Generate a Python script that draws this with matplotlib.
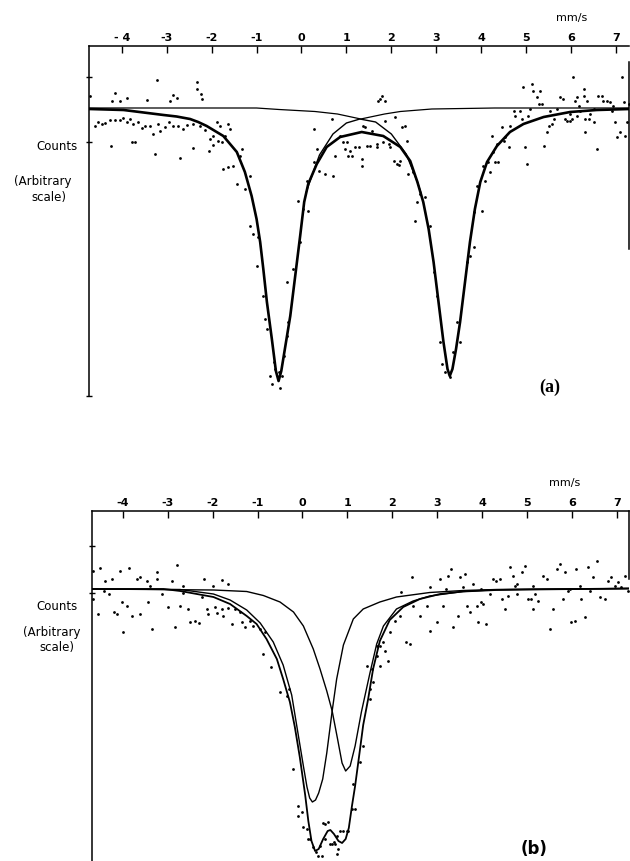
import matplotlib
matplotlib.use("Agg")
import matplotlib.pyplot as plt

# ---------------- data: panel (a) ----------------
tick_vals = [-4, -3, -2, -1, 0, 1, 2, 3, 4, 5, 6, 7]
tick_labels_a = ["- 4", "-3", "-2", "-1", "0", "1", "2", "3", "4", "5", "6", "7"]
tick_labels_b = ["-4", "-3", "-2", "-1", "0", "1", "2", "3", "4", "5", "6", "7"]

# total fit (thick)
a_fit_v = [-4.72, -3.96, -3.07, -2.78, -2.48, -2.30, -2.11, -1.74, -1.44, -1.26, -1.11, -1.00, -0.92, -0.85,
           -0.77, -0.66, -0.57, -0.51, -0.45, -0.37, -0.25, -0.14, -0.03, 0.06, 0.15, 0.34,
           0.56, 0.86, 1.34, 1.82, 2.20, 2.42, 2.58, 2.71, 2.83, 2.94, 3.05, 3.16, 3.25,
           3.30, 3.36, 3.44, 3.53, 3.64, 3.75, 3.86, 3.98, 4.13, 4.35, 4.64, 4.94, 5.39,
           5.98, 6.57, 7.30]
a_fit_y = [287, 286, 281, 279.5, 277, 274, 270, 260, 244, 224, 200, 177, 154, 127,
           94, 57, 25, 15, 25, 47, 80, 120, 160, 194, 212, 232,
           249, 259, 264, 260, 249, 235, 214, 194, 167, 134, 94, 54, 27,
           20, 27, 47, 74, 114, 154, 187, 214, 234, 250, 264, 272, 279,
           284, 286, 287]

# doublet component (thin, between the lines)
a_dbl_v = [0.10, 0.19, 0.40, 0.70, 1.00, 1.30, 1.65, 2.00, 2.33, 2.58, 2.66]
a_dbl_y = [203, 215, 241, 262, 273, 277, 274, 262, 242, 214, 203]

# broad singlet component (thin)
a_sgl_v = [-4.72, -1.0, -0.5, 0.3, 0.8, 1.32, 1.85, 2.2, 2.9, 4.3, 7.30]
a_sgl_y = [288, 288, 286.5, 284.5, 282, 277, 282, 284.5, 287, 288, 288]

a_pts = [
    (-4.71, 300), (-4.15, 303), (-4.22, 295), (-4.05, 295), (-3.89, 298), (-3.44, 296), (-3.21, 316),
    (-2.93, 295), (-2.87, 301), (-2.78, 298), (-2.32, 314), (-2.33, 307), (-2.24, 302), (-2.22, 297),
    (-4.59, 270), (-4.52, 274), (-4.44, 272), (-4.37, 273), (-4.26, 276), (-4.15, 276), (-4.05, 276),
    (-3.98, 278), (-3.89, 274), (-3.81, 277), (-3.74, 272), (-3.63, 274), (-3.56, 268), (-3.48, 270),
    (-3.37, 270), (-3.30, 262), (-3.19, 272), (-3.15, 265), (-3.04, 269), (-2.96, 274), (-2.85, 270),
    (-2.74, 270), (-2.63, 267), (-2.55, 271), (-2.41, 272), (-2.26, 270), (-2.15, 266), (-2.04, 257),
    (-1.96, 260), (-1.89, 274), (-1.81, 270), (-1.78, 254), (-1.70, 260), (-1.63, 272), (-1.59, 267),
    (-1.74, 227), (-1.63, 229), (-1.52, 230), (-1.44, 212), (-1.37, 240), (-1.33, 247), (-1.14, 220),
    (-4.25, 250), (-3.78, 254), (-3.70, 254), (-3.26, 242), (-2.70, 238), (-2.41, 248), (-2.07, 245),
    (-1.96, 251), (-1.85, 255), (-1.26, 207), (-1.14, 170), (-1.07, 162), (-0.96, 159), (-1.00, 130),
    (-0.85, 100), (-0.81, 77), (-0.77, 67), (-0.70, 20), (-0.66, 12), (-0.62, 34), (-0.59, 27),
    (-0.51, 24), (-0.48, 8), (-0.44, 20), (-0.40, 40), (-0.33, 60), (-0.29, 74), (-0.33, 114),
    (-0.18, 127), (-0.03, 154), (-0.07, 195), (0.04, 187), (0.15, 185), (0.12, 215), (0.27, 234),
    (0.34, 247), (0.38, 225), (0.52, 222), (0.71, 220), (0.75, 240), (0.67, 277), (0.27, 267),
    (0.86, 260), (1.01, 254), (1.08, 245), (1.04, 240), (1.19, 249), (1.34, 230), (1.34, 237),
    (1.45, 250), (1.41, 269), (1.53, 250), (1.68, 249), (1.71, 295),
    (0.93, 254), (0.97, 247), (1.12, 240), (1.27, 249), (1.38, 270), (1.56, 265), (1.68, 252),
    (1.75, 297), (1.79, 300), (1.86, 295), (1.82, 254), (1.94, 252), (1.97, 249), (1.86, 275),
    (2.08, 279), (2.05, 235), (2.12, 232), (2.16, 231), (2.20, 235), (2.23, 269), (2.31, 270),
    (2.34, 255), (2.38, 222), (2.49, 224), (2.53, 175), (2.57, 194), (2.64, 202), (2.75, 199),
    (2.86, 170), (2.94, 124), (3.01, 100), (3.09, 54), (3.12, 32), (3.20, 24), (3.31, 19),
    (3.38, 44), (3.46, 74), (3.53, 54), (3.68, 134), (3.75, 140), (3.83, 149), (3.83, 184),
    (3.90, 210), (4.01, 185), (4.05, 230), (4.09, 215), (4.16, 234), (4.20, 224), (4.24, 260),
    (4.27, 244), (4.31, 234), (4.35, 252), (4.38, 234), (4.46, 269), (4.50, 255), (4.53, 259),
    (4.61, 249), (4.64, 270), (4.72, 285), (4.76, 280), (4.87, 285), (4.90, 277), (4.94, 309),
    (4.98, 249), (5.01, 232), (5.05, 280), (5.09, 287), (5.13, 312), (5.16, 305), (5.24, 299),
    (5.28, 292), (5.31, 305), (5.35, 292), (5.39, 250), (5.46, 264), (5.50, 270), (5.53, 285),
    (5.57, 272), (5.61, 277), (5.68, 287), (5.76, 299), (5.83, 297), (5.87, 277), (5.91, 275),
    (5.98, 275), (6.02, 277), (6.05, 319), (6.09, 295), (6.13, 299), (6.17, 290), (6.20, 285),
    (6.28, 300), (6.31, 277), (6.35, 295), (6.39, 277), (6.42, 282), (6.50, 274), (6.57, 247),
    (6.61, 300), (6.69, 300), (6.72, 295), (6.80, 295), (6.87, 294), (6.91, 285), (6.98, 274),
    (7.02, 259), (7.09, 264), (7.13, 319), (7.17, 294), (7.20, 260), (7.24, 274), (7.28, 292),
    (6.28, 307), (5.98, 282), (6.13, 280), (6.31, 264), (6.50, 287), (6.94, 290),
]
a_pts_v = [p[0] for p in a_pts]
a_pts_y = [p[1] for p in a_pts]

# ---------------- data: panel (b) ----------------
b_fit_v = [-4.68, -3.09, -2.72, -2.35, -1.98, -1.61, -1.24, -1.02, -0.80, -0.57, -0.43, -0.28,
           -0.17, -0.06, 0.06, 0.13, 0.20, 0.28, 0.36, 0.46, 0.56, 0.62, 0.70, 0.80, 0.88,
           0.96, 1.03, 1.10, 1.17, 1.28, 1.35, 1.46, 1.57, 1.72, 1.94, 2.24, 2.61, 3.06,
           3.57, 4.31, 5.06, 7.26]
b_fit_y = [272, 272, 270, 267, 264, 257, 245, 237, 222, 202, 182, 159,
           134, 104, 66, 40, 20, 10, 12, 22, 30, 31, 27, 20, 18,
           22, 33, 55, 75, 112, 136, 162, 192, 220, 241, 254, 262, 267,
           269.5, 271, 271.5, 272.5]

b_c1_v = [-4.68, -2.72, -1.98, -1.61, -1.24, -0.94, -0.65, -0.43, -0.24, -0.09, 0.02, 0.10,
          0.16, 0.22, 0.29, 0.36, 0.45, 0.54, 0.66, 0.76, 0.91, 1.13, 1.35, 1.72, 2.09,
          2.83, 3.57, 4.31, 7.26]
b_c1_y = [272, 271.5, 267, 261, 251, 238, 219, 196, 166, 125, 95, 74,
          63, 59, 61, 68, 82, 108, 150, 182, 216, 242, 252, 259, 264,
          268.5, 270.5, 271.5, 272.5]

b_c2_v = [-4.68, -1.98, -1.24, -0.87, -0.50, -0.20, 0.02, 0.24, 0.39, 0.54, 0.66, 0.78,
          0.88, 0.96, 1.06, 1.17, 1.31, 1.50, 1.65, 1.80, 2.09, 2.46, 2.83, 3.57, 4.31, 7.26]
b_c2_y = [272, 271, 269.5, 265.5, 259, 249, 235, 212, 192, 170, 150, 122,
          98, 90, 95, 115, 149, 188, 217, 235, 252, 260, 265, 269.5, 271.3, 272.5]

b_pts = [
    (-4.65, 290), (-4.50, 293), (-4.39, 280), (-4.24, 282), (-4.06, 290), (-3.85, 293), (-3.69, 282),
    (-3.61, 284), (-3.46, 280), (-3.39, 275), (-3.24, 289), (-3.24, 282), (-2.91, 280), (-2.80, 296),
    (-2.65, 275), (-2.20, 282), (-1.98, 275), (-1.80, 281), (-1.65, 277),
    (-4.65, 262), (-4.54, 247), (-4.42, 270), (-4.31, 267), (-4.20, 249), (-4.13, 247), (-4.02, 259),
    (-3.98, 229), (-3.91, 255), (-3.80, 245), (-3.61, 247), (-3.43, 259), (-3.35, 232), (-3.13, 267),
    (-3.00, 254), (-2.83, 234), (-2.72, 255), (-2.65, 268), (-2.54, 252), (-2.50, 239), (-2.39, 240),
    (-2.31, 238), (-2.24, 264), (-2.13, 252), (-2.09, 247), (-1.94, 254), (-1.91, 248), (-1.80, 252),
    (-1.76, 245), (-1.65, 253), (-1.57, 237), (-1.50, 252), (-1.39, 249), (-1.35, 239), (-1.28, 234),
    (-1.17, 240), (-1.09, 235), (-0.94, 232), (-0.83, 229), (-0.87, 207), (-0.69, 194), (-0.50, 169),
    (-0.35, 165), (-0.31, 172), (-0.20, 92), (-0.09, 45), (-0.02, 49), (0.09, 32), (0.17, 22),
    (0.24, 14), (0.31, 9), (0.35, 5), (0.39, 15), (0.50, 22), (0.50, 37), (0.57, 39), (0.65, 17),
    (0.69, 19), (0.76, 25), (0.80, 12), (0.91, 30), (1.02, 30), (1.17, 52), (1.13, 77), (1.28, 99),
    (1.35, 115), (1.50, 162), (1.57, 179), (1.65, 205),
    (-0.09, 55), (0.02, 34), (0.13, 22), (0.43, 5), (0.46, 38), (0.61, 17), (0.72, 17), (0.76, 7),
    (0.83, 30), (0.98, 30), (1.09, 52),
    (1.43, 195), (1.50, 172), (1.54, 192), (1.65, 215), (1.72, 215), (1.80, 219), (1.83, 210),
    (1.91, 200), (1.94, 229), (1.72, 195), (2.06, 240), (2.17, 245), (2.20, 269), (2.31, 219),
    (2.39, 217), (2.43, 284), (2.46, 255), (2.61, 245), (2.76, 255), (2.83, 230), (2.83, 274),
    (2.98, 239), (3.06, 282), (3.13, 255), (3.20, 272), (3.24, 285), (3.31, 292), (3.35, 234),
    (3.46, 245), (3.50, 284), (3.57, 274), (3.61, 287), (3.65, 255), (3.72, 249), (3.80, 277),
    (3.87, 255), (3.91, 239), (3.98, 259), (4.02, 257), (4.09, 237), (4.17, 267), (4.24, 282),
    (4.31, 280), (4.39, 282), (4.43, 262), (4.50, 252), (4.57, 265), (4.61, 294), (4.69, 285),
    (4.72, 275), (4.76, 267), (4.87, 289), (4.94, 295), (5.02, 262), (5.09, 262), (5.13, 252),
    (5.17, 267), (5.24, 260), (5.35, 285), (5.43, 282), (5.50, 232), (5.57, 252), (5.65, 292),
    (5.72, 297), (5.80, 262), (5.83, 289), (5.91, 270), (5.98, 239), (6.06, 240), (6.09, 292),
    (6.17, 275), (6.20, 262), (6.28, 244), (6.35, 294), (6.39, 270), (6.46, 284), (6.54, 300),
    (6.61, 264), (6.72, 262), (6.80, 280), (6.87, 284), (6.94, 275), (7.02, 279), (7.09, 274),
    (7.17, 285), (7.24, 270), (5.94, 272), (5.13, 275), (4.76, 277), (3.98, 272),
]
b_pts_v = [p[0] for p in b_pts]
b_pts_y = [p[1] for p in b_pts]

# ---------------- figure ----------------
W, H = 630, 862
fig = plt.figure(figsize=(W / 100, H / 100), dpi=100)
fig.patch.set_facecolor("white")

ax1 = fig.add_axes([89 / W, 465 / H, 540 / W, 350 / H])
ax2 = fig.add_axes([92 / W, 0.0, 537 / W, 350 / H])


def style(ax, xlim, labels, yt, rb):
    ax.set_xlim(*xlim)
    ax.set_ylim(0, 350)
    ax.spines["bottom"].set_visible(False)
    for s in ("top", "left", "right"):
        ax.spines[s].set_linewidth(1.1)
        ax.spines[s].set_color("black")
    ax.spines["right"].set_bounds(*rb)
    ax.xaxis.tick_top()
    ax.set_xticks(tick_vals)
    ax.set_xticklabels(labels, fontsize=8, fontweight="bold", family="DejaVu Sans")
    ax.tick_params(axis="x", direction="in", length=5, width=1.0, pad=3)
    ax.set_yticks(yt)
    ax.set_yticklabels([])
    ax.tick_params(axis="y", direction="inout", length=4, width=1.0, right=False)


style(ax1, (-4.73, 7.29), tick_labels_a, [0, 254, 319], (147, 334))
style(ax2, (-4.68, 7.26), tick_labels_b, [268, 315], (282, 350))

# panel (a)
ax1.scatter(a_pts_v, a_pts_y, s=4, color="black", linewidths=0, zorder=2)
ax1.plot(a_sgl_v, a_sgl_y, color="black", lw=0.9, zorder=3)
ax1.plot(a_dbl_v, a_dbl_y, color="black", lw=1.0, zorder=3)
ax1.plot(a_fit_v, a_fit_y, color="black", lw=1.9, zorder=4, solid_joinstyle="round")

# panel (b)
ax2.scatter(b_pts_v, b_pts_y, s=4, color="black", linewidths=0, zorder=2)
ax2.plot(b_c2_v, b_c2_y, color="black", lw=1.0, zorder=3, solid_joinstyle="round")
ax2.plot(b_c1_v, b_c1_y, color="black", lw=1.0, zorder=3, solid_joinstyle="round")
ax2.plot(b_fit_v, b_fit_y, color="black", lw=1.3, zorder=4, solid_joinstyle="round")


def ftext(x, y, s, **kw):
    fig.text(x / W, 1 - y / H, s, ha="center", va="center", **kw)


ftext(572, 18, "mm/s", fontsize=8, family="DejaVu Sans")
ftext(565, 483, "mm/s", fontsize=8, family="DejaVu Sans")

ftext(57, 147, "Counts", fontsize=8.5, family="DejaVu Sans")
ftext(43, 181, "(Arbitrary", fontsize=8.5, family="DejaVu Sans")
ftext(49, 197, "scale)", fontsize=8.5, family="DejaVu Sans")

ftext(57, 607, "Counts", fontsize=8.5, family="DejaVu Sans")
ftext(52, 633, "(Arbitrary", fontsize=8.5, family="DejaVu Sans")
ftext(57, 648, "scale)", fontsize=8.5, family="DejaVu Sans")

ftext(550, 387, "(a)", fontsize=13, fontweight="bold", family="Liberation Serif")
ftext(534, 849, "(b)", fontsize=12, fontweight="bold", family="DejaVu Sans")

fig.savefig("out.png", dpi=100, facecolor="white")
